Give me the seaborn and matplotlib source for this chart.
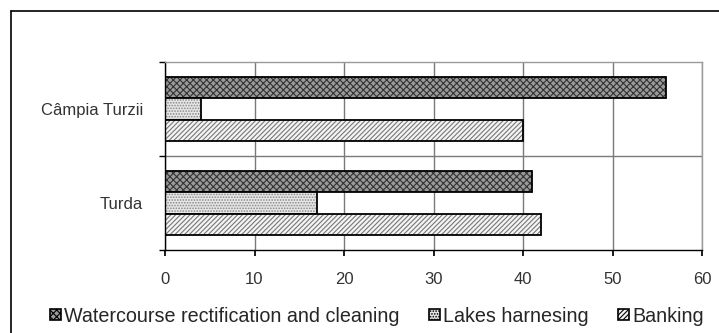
import matplotlib
matplotlib.use("Agg")
import matplotlib.pyplot as plt
import seaborn as sns
import pandas as pd
from matplotlib.patches import Rectangle
from matplotlib.lines import Line2D

categories = ["Câmpia Turzii", "Turda"]
series = ["Watercourse rectification and cleaning", "Lakes harnesing", "Banking"]
watercourse = [56, 41]
lakes = [4, 17]
banking = [40, 42]
x_ticks = [0, 10, 20, 30, 40, 50, 60]

rows = []
for i, c in enumerate(categories):
    for s, vals in zip(series, [watercourse, lakes, banking]):
        rows.append({"place": c, "type": s, "value": vals[i]})
df = pd.DataFrame(rows)

sns.set_theme(style="white")
plt.rcParams["font.family"] = ["Liberation Sans", "DejaVu Sans"]
plt.rcParams["hatch.linewidth"] = 0.8

fig = plt.figure(figsize=(7.19, 3.33), dpi=100)
ax = fig.add_axes([165/719, 1-250/333, 537/719, 188/333])

fills = ["#9a9a9a", "#e6e6e6", "#f4f4f4"]
hatches = ["xxxxx", "......", "///////"]
hatch_colors = ["#333333", "#888888", "#777777"]

sns.barplot(data=df, y="place", x="value", hue="type", order=categories,
            hue_order=series, orient="h", width=0.68, ax=ax,
            palette=fills, edgecolor="black", linewidth=1.3, saturation=1,
            legend=False)

for ci, container in enumerate(ax.containers):
    for p in container:
        p.set_facecolor(fills[ci])
        p.set_hatch(hatches[ci])
        p.set_edgecolor("black")
        p._hatch_color = matplotlib.colors.to_rgba(hatch_colors[ci])

ax.set_xlim(0, 60)
ax.set_ylim(1.5, -0.5)
ax.set_xticks(x_ticks)
ax.set_xticklabels([str(t) for t in x_ticks], fontsize=12, color="#333333")
ax.set_yticks([0, 1])
ax.set_yticklabels(categories, fontsize=12, color="#333333")
ax.set_yticks([-0.5, 0.5, 1.5], minor=True)
ax.tick_params(axis="y", which="major", length=0, pad=16)
ax.tick_params(axis="y", which="minor", length=4, color="black", direction="out", left=True)
ax.tick_params(axis="x", which="major", length=4, color="black", direction="out", bottom=True, pad=12)
ax.set_xlabel("")
ax.set_ylabel("")
ax.set_axisbelow(True)
for x in x_ticks:
    ax.axvline(x, color="#7a7a7a", lw=1, zorder=0)
ax.axhline(0.5, color="#7a7a7a", lw=1, zorder=0)

ax.spines["left"].set_color("black")
ax.spines["bottom"].set_color("black")
ax.spines["top"].set_color("#9a9a9a")
ax.spines["right"].set_color("#9a9a9a")
for s in ax.spines.values():
    s.set_linewidth(1)

# legend
handles = []
for ci in range(3):
    h = Rectangle((0, 0), 1, 1, facecolor=fills[ci], hatch=hatches[ci], edgecolor="black", linewidth=1.2)
    handles.append(h)
leg = fig.legend(handles, series, loc="center", bbox_to_anchor=(377/719, 1-316/333),
                 ncol=3, frameon=False, fontsize=14.2, handlelength=0.55, handleheight=0.55,
                 handletextpad=0.15, columnspacing=1.5)

# outer frame (left and top edges)
fig.lines.append(Line2D([11/719, 11/719], [0, 1-11/333], transform=fig.transFigure,
                        color="black", lw=1.2))
fig.lines.append(Line2D([11/719, 1], [1-11/333, 1-11/333], transform=fig.transFigure,
                        color="black", lw=1.2))

fig.savefig("out.png", dpi=100)
